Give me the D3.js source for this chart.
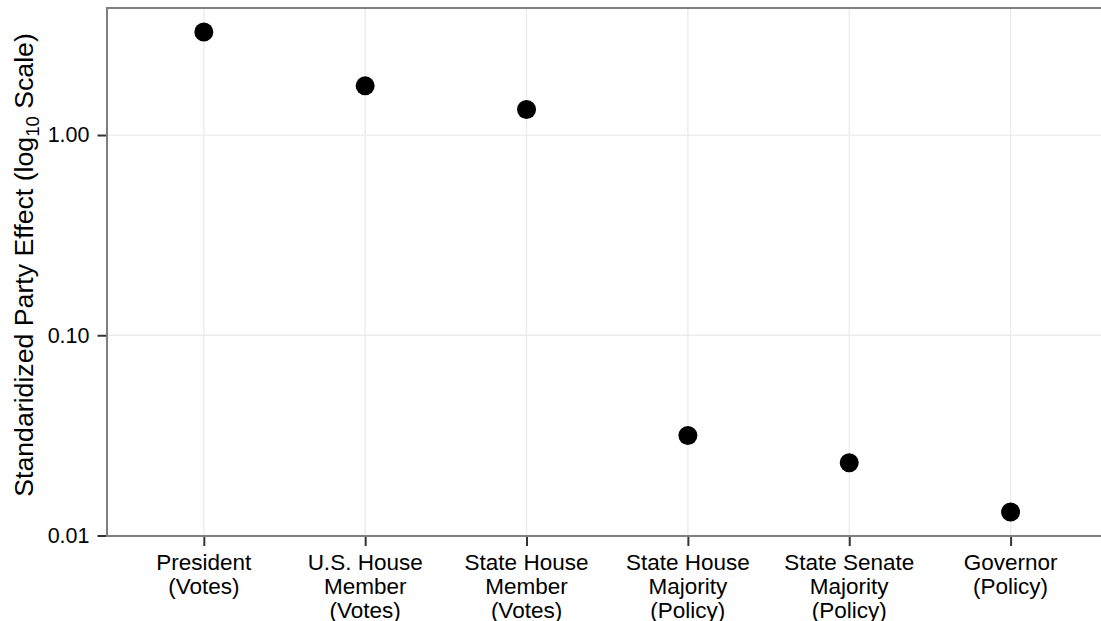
<!DOCTYPE html>
<html>
<head>
<meta charset="utf-8">
<script src="https://cdn.jsdelivr.net/npm/d3@7"></script>
<style>
  html, body { margin: 0; padding: 0; background: #fff; }
  svg { display: block; font-family: "Liberation Sans", Arial, Helvetica, sans-serif; }
</style>
</head>
<body>
<svg id="chart" width="1101" height="621"></svg>
<script>
// Data
const offices = [
    ['President', '(Votes)'],
    ['U.S. House', 'Member', '(Votes)'],
    ['State House', 'Member', '(Votes)'],
    ['State House', 'Majority', '(Policy)'],
    ['State Senate', 'Majority', '(Policy)'],
    ['Governor', '(Policy)']
];
const partyEffect = [3.27, 1.76, 1.34, 0.0316, 0.0231, 0.0131];
const yTicks = [0.01, 0.1, 1];
const yTickLabels = ['0.01', '0.10', '1.00'];

const svg = d3.select('#chart');
const panel = { left: 107, top: 8, right: 1107.4, bottom: 536 };

const keys = offices.map(d => d.join(' '));

const x = d3.scalePoint()
    .domain(keys)
    .range([panel.left, panel.right])
    .padding(0.6);

// ggplot style 5% expansion on the log range
const logExt = d3.extent(partyEffect, v => Math.log10(v));
const pad = (logExt[1] - logExt[0]) * 0.05;
const y = d3.scaleLog()
    .domain([Math.pow(10, logExt[0] - pad), Math.pow(10, logExt[1] + pad)])
    .range([panel.bottom, panel.top]);

// Grid
const grid = svg.append('g');
grid.selectAll('.hgrid')
    .data(yTicks)
    .join('line')
    .attr('x1', panel.left).attr('x2', panel.right)
    .attr('y1', d => y(d)).attr('y2', d => y(d))
    .attr('stroke', '#ebebeb').attr('stroke-width', 1.3);
grid.selectAll('.vgrid')
    .data(keys)
    .join('line')
    .attr('x1', d => x(d)).attr('x2', d => x(d))
    .attr('y1', panel.top).attr('y2', panel.bottom)
    .attr('stroke', '#ebebeb').attr('stroke-width', 1.3);

// Points
svg.append('g')
    .selectAll('circle')
    .data(partyEffect)
    .join('circle')
    .attr('cx', (d, i) => x(keys[i]))
    .attr('cy', d => y(d))
    .attr('r', 9.5)
    .attr('fill', '#000');

// Panel border
svg.append('rect')
    .attr('x', panel.left).attr('y', panel.top)
    .attr('width', panel.right - panel.left)
    .attr('height', panel.bottom - panel.top)
    .attr('fill', 'none')
    .attr('stroke', '#7f7f7f')
    .attr('stroke-width', 2);

// Y axis
const yAxis = d3.axisLeft(y)
    .tickValues(yTicks)
    .tickFormat((d, i) => yTickLabels[i])
    .tickSize(8.5)
    .tickPadding(8);
const gy = svg.append('g')
    .attr('transform', `translate(${panel.left - 1},0)`)
    .call(yAxis);
gy.select('.domain').remove();
gy.selectAll('.tick line').attr('stroke', '#333').attr('stroke-width', 2);
gy.selectAll('.tick text')
    .attr('fill', '#000')
    .style('font-size', '21.5px');

// X axis
const xAxis = d3.axisBottom(x).tickSize(9).tickFormat('');
const gx = svg.append('g')
    .attr('transform', `translate(0,${panel.bottom + 1})`)
    .call(xAxis);
gx.select('.domain').remove();
gx.selectAll('.tick line').attr('stroke', '#333').attr('stroke-width', 2);

svg.append('g')
    .selectAll('text')
    .data(offices)
    .join('text')
    .attr('x', (d, i) => x(keys[i]))
    .attr('y', 569.5)
    .attr('text-anchor', 'middle')
    .attr('fill', '#000')
    .style('font-size', '22.5px')
    .selectAll('tspan')
    .data(d => d)
    .join('tspan')
    .attr('x', function () { return d3.select(this.parentNode).attr('x'); })
    .attr('dy', (d, i) => i === 0 ? 0 : 24)
    .text(d => d);

// Y axis title
const title = svg.append('text')
    .attr('transform', `translate(33,265) rotate(-90)`)
    .attr('text-anchor', 'middle')
    .attr('fill', '#000')
    .style('font-size', '26.7px');
title.append('tspan').text('Standaridized Party Effect (log');
title.append('tspan').attr('dy', 6).style('font-size', '18.5px').text('10');
title.append('tspan').attr('dy', -6).text(' Scale)');
</script>
</body>
</html>
